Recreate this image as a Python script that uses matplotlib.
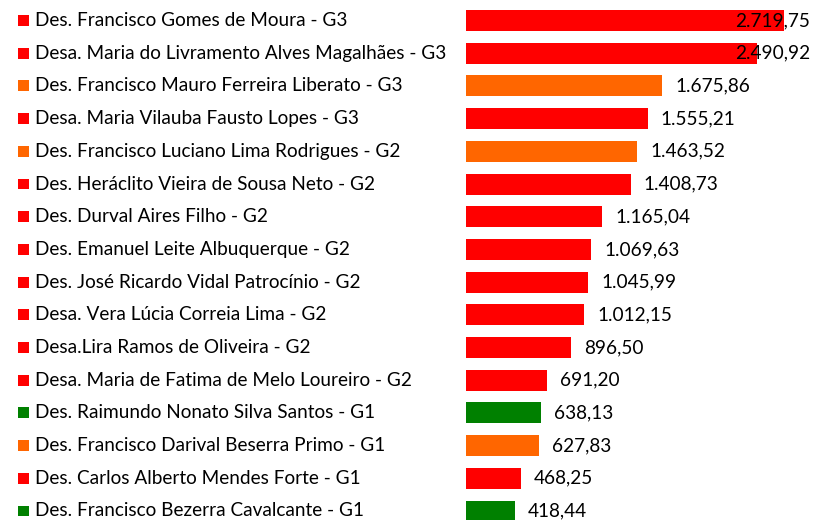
import matplotlib
matplotlib.use("Agg")
import matplotlib.pyplot as plt
from matplotlib.transforms import blended_transform_factory, offset_copy

names = [
    "Des. Francisco Gomes de Moura - G3",
    "Desa. Maria do Livramento Alves Magalhães - G3",
    "Des. Francisco Mauro Ferreira Liberato - G3",
    "Desa. Maria Vilauba Fausto Lopes - G3",
    "Des. Francisco Luciano Lima Rodrigues - G2",
    "Des. Heráclito Vieira de Sousa Neto - G2",
    "Des. Durval Aires Filho - G2",
    "Des. Emanuel Leite Albuquerque - G2",
    "Des. José Ricardo Vidal Patrocínio - G2",
    "Desa. Vera Lúcia Correia Lima - G2",
    "Desa.Lira Ramos de Oliveira - G2",
    "Desa. Maria de Fatima de Melo Loureiro - G2",
    "Des. Raimundo Nonato Silva Santos - G1",
    "Des. Francisco Darival Beserra Primo - G1",
    "Des. Carlos Alberto Mendes Forte - G1",
    "Des. Francisco Bezerra Cavalcante - G1",
]
values = [2719.75, 2490.92, 1675.86, 1555.21, 1463.52, 1408.73, 1165.04, 1069.63,
          1045.99, 1012.15, 896.50, 691.20, 638.13, 627.83, 468.25, 418.44]
color_keys = ["r", "r", "o", "r", "o", "r", "r", "r", "r", "r", "r", "r", "g", "o", "r", "g"]
palette = {"r": "#FF0000", "o": "#FF6600", "g": "#008000"}

W, H = 814, 520
fig = plt.figure(figsize=(W / 100, H / 100), dpi=100)
left_px = 466
xmax = 2780
px_per_unit = 318 / 2719.75
ax = fig.add_axes([left_px / W, 0, (xmax * px_per_unit) / W, 1])
ax.set_xlim(0, xmax)
row = 32.7
ax.set_ylim(15 + 9 / row, -20.5 / row)
ax.axis("off")

colors = [palette[k] for k in color_keys]
ys = list(range(len(values)))
ax.barh(ys, values, height=21 / row, color=colors)

font = "Lato"
fs = 13.0
renderer = fig.canvas.get_renderer()
t = fig.text(0, 0, names[1], fontsize=fs, family=font)
w = t.get_window_extent(renderer).width
fs = fs * 410 / w
t.remove()

tr = blended_transform_factory(fig.transFigure, ax.transData)
ax.scatter([23.5 / W] * len(ys), ys, marker="s", s=62, c=colors, transform=tr, clip_on=False, linewidths=0)
for y, n in zip(ys, names):
    ax.text(35 / W, y, n, transform=tr, fontsize=fs, family=font, va="center", ha="left", color="#000000")

def fmt(v):
    s = f"{v:,.2f}"
    return s.replace(",", "X").replace(".", ",").replace("X", ".")

for y, v in zip(ys, values):
    txt = ax.text(v, y, fmt(v), fontsize=fs, family=font, va="center", ha="left", color="#000000")
    txt.set_transform(offset_copy(ax.transData, fig=fig, x=13, y=0, units="dots"))
    bb = txt.get_window_extent(renderer)
    if bb.x1 > 810:
        txt.set_transform(tr)
        txt.set_position((810 / W, y))
        txt.set_ha("right")

fig.savefig("out.png", dpi=100)
